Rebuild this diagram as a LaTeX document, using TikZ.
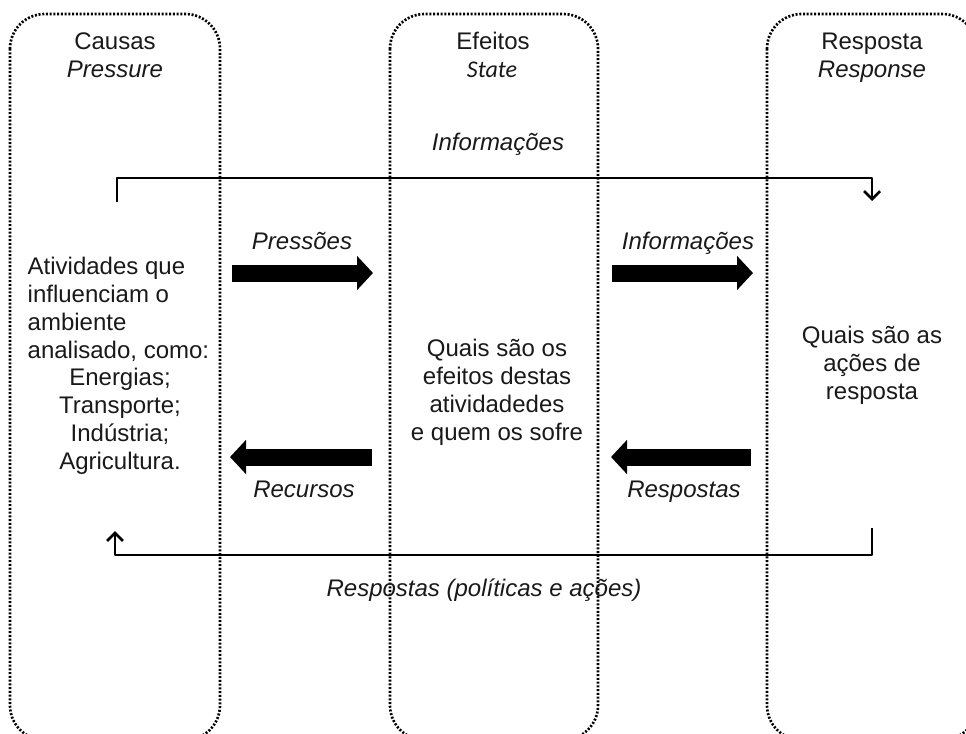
\documentclass[tikz,border=0pt]{standalone}
\usepackage{fontspec}
\setmainfont{Liberation Sans}
\newfontfamily\calibri{Carlito}
\usetikzlibrary{arrows.meta}

\begin{document}
\begin{tikzpicture}[x=0.75pt,y=-0.75pt,line join=round,
	font=\fontsize{18}{21}\selectfont, text=black!90,
	coluna/.style={draw=black, line width=2pt, dash pattern=on 1.5pt off 1.3pt, rounded corners=26pt},
	fluxo/.style={line width=2pt, -{Straight Barb[length=6pt,width=12pt]}},
	seta/.style={line width=12.75pt, -{Triangle[length=12pt,width=25pt]}},
	rotulo/.style={anchor=base, font=\fontsize{18}{21}\selectfont\itshape},
	titulo/.style={anchor=base}]
	\useasboundingbox (0,0) rectangle (966,733);
	\clip (0,0) rectangle (966,733);
	% colunas
	\draw[coluna] (10,14) rectangle (220,740);
	\draw[coluna] (390,14) rectangle (598,740);
	\draw[coluna] (767,14) rectangle (977,740);
	\node[titulo] (causas) at (115,49) {Causas};
	\node[titulo] (pressure) at (115,77) {\textit{Pressure}};
	\node[titulo] (efeitos) at (493,49) {Efeitos};
	\node[titulo] (state) at (492,77) {\calibri\itshape State};
	\node[titulo] (resposta) at (872,49) {Resposta};
	\node[titulo] (response) at (872,77) {\textit{Response}};
	% textos
	\node[align=left, anchor=west] (ativ) at (23,309) {Atividades que\\influenciam o\\ambiente\\analisado, como:};
	\node[align=center] (setores) at (120,421) {Energias;\\Transporte;\\Ind\'ustria;\\Agricultura.};
	\node[align=center] (quais) at (497,392) {Quais são os\\efeitos destas\\atividadedes\\e quem os sofre};
	\node[align=center] (acoes) at (872,365) {Quais são as\\ações de\\resposta};
	% fluxos longos
	\coordinate (infoIni) at (117,202);
	\coordinate (infoFim) at (872,201);
	\draw[fluxo] (infoIni) -- ++(0,-24) -| (infoFim);
	\node[rotulo] (info) at (498,150) {Informações};
	\coordinate (respIni) at (872,528);
	\coordinate (respFim) at (115,531);
	\draw[fluxo] (respIni) -- ++(0,27) -| (respFim);
	\node[rotulo] (politicas) at (484,596) {Respostas (políticas e ações)};
	% setas grossas
	\coordinate (pressIni) at (232,273);
	\coordinate (pressFim) at (373,273);
	\draw[seta] (pressIni) -- (pressFim);
	\node[rotulo] (pressoes) at (302,249) {Pressões};
	\coordinate (infIni) at (612,273);
	\coordinate (infFim) at (753,273);
	\draw[seta] (infIni) -- (infFim);
	\node[rotulo] (informacoes) at (688,249) {Informações};
	\coordinate (recIni) at (372,457);
	\coordinate (recFim) at (230,457);
	\draw[seta] (recIni) -- (recFim);
	\node[rotulo] (recursos) at (304,497) {Recursos};
	\coordinate (resIni) at (751,457);
	\coordinate (resFim) at (611,457);
	\draw[seta] (resIni) -- (resFim);
	\node[rotulo] (respostas) at (684,497) {Respostas};
\end{tikzpicture}
\end{document}
